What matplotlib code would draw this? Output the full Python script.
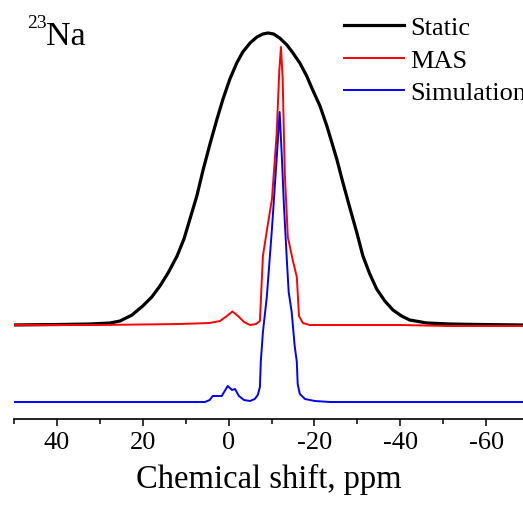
import matplotlib
matplotlib.use('Agg')
import matplotlib.pyplot as plt
from matplotlib.ticker import MultipleLocator

plt.rcParams['font.family'] = ['Liberation Serif', 'DejaVu Serif']
plt.rcParams['axes.unicode_minus'] = False

# static spectrum (ppm, intensity a.u.)
static_ppm = [50.9, 39.3, 32.3, 27.6, 25.3, 22.5, 20.0, 17.9, 16.0, 14.1, 12.0, 10.4, 9.0, 7.4,
              6.0, 4.4, 2.7, 1.3, -0.3, -1.9, -3.3, -5.0, -6.6, -8.0, -9.2, -10.5, -11.9, -13.6,
              -15.0, -16.6, -18.2, -19.6, -21.3, -22.9, -24.3, -25.2, -26.6, -28.2, -29.9, -31.3,
              -32.9, -34.5, -36.4, -38.3, -40.3, -42.2, -46.2, -51.5, -58.5, -68.5]
static_int = [0, 0.5, 1, 2, 4, 10, 19, 28, 39, 52, 69, 86, 106, 129,
              154, 180, 206, 226, 246, 262, 273, 282, 288, 291, 292, 291, 287, 280,
              272, 262, 249, 235, 219, 199, 179, 166, 143, 118, 92, 69,
              51, 36, 24, 15, 9, 5, 2, 1, 0.5, 0]

# MAS spectrum
mas_ppm = [50.0, 30.0, 11.3, 4.4, 2.0, 0.4, -0.9, -2.2, -3.6, -5.0, -6.4, -7.3, -8.0, -8.9,
           -10.1, -11.2, -11.8, -12.2, -12.6, -13.1, -13.8, -15.0, -15.9, -16.4, -17.3, -18.9,
           -39.9, -51.6, -60.9, -68.6]
mas_int = [0, 0, 1, 2, 4, 9, 13.5, 9, 3, 0, 1, 4, 69, 94,
           126, 191, 253, 278, 246, 151, 88, 64, 48, 9, 2, 0,
           0, -1, -1, -1]

# simulated spectrum
sim_ppm = [50.0, 5.5, 4.4, 3.7, 1.6, 0.2, -0.8, -1.5, -2.4, -3.6, -5.0, -6.1, -6.8, -7.3,
           -7.5, -8.0, -8.9, -10.1, -11.2, -11.9, -12.4, -12.9, -13.6, -14.0, -14.7, -15.4,
           -15.9, -16.1, -16.6, -17.8, -20.1, -23.6, -68.6]
sim_int = [0, 0, 2, 6, 6, 16, 12, 13, 6, 2, 1, 3, 7, 15,
           40, 70, 105, 173, 243, 290, 246, 196, 140, 110, 90, 56,
           40, 18, 8, 3, 1, 0, 0]

top_base = 94
sim_base = 17

fig = plt.figure(figsize=(5.23, 5.06), dpi=100)
ax = fig.add_axes([14/523, 86/506, 509/523, 420/506])

ax.plot(static_ppm, [v + top_base for v in static_int], color='black', lw=2.3, label='Static')
ax.plot(mas_ppm, [v + top_base for v in mas_int], color='#ff0000', lw=1.4, label='MAS')
ax.plot(sim_ppm, [v + sim_base for v in sim_int], color='#0000ff', lw=1.4, label='Simulation')

ax.set_xlim(50, -68.6)
ax.set_ylim(0, 420)
for s in ['top', 'left', 'right']:
    ax.spines[s].set_visible(False)
ax.spines['bottom'].set_linewidth(1.2)
ax.set_yticks([])
ax.xaxis.set_major_locator(MultipleLocator(20))
ax.xaxis.set_minor_locator(MultipleLocator(10))
ax.tick_params(axis='x', which='major', direction='out', length=5, width=1.1, labelsize=19, pad=4)
ax.tick_params(axis='x', which='minor', direction='out', length=3.3, width=1.1)
ax.set_xlabel('Chemical shift, ppm', fontsize=23.5, labelpad=7)

fig.text(27/523, 1 - 28/506, '23', fontsize=14, va='baseline')
fig.text(46/523, 1 - 45/506, 'Na', fontsize=24.5, va='baseline')

leg = ax.legend(loc='upper left', bbox_to_anchor=(344/523, 1 - 17/506),
                bbox_transform=fig.transFigure, frameon=False, fontsize=19,
                handlelength=2.27, handletextpad=0.23, labelspacing=0.34,
                borderpad=0, borderaxespad=0)

fig.savefig('out.png', dpi=100)
